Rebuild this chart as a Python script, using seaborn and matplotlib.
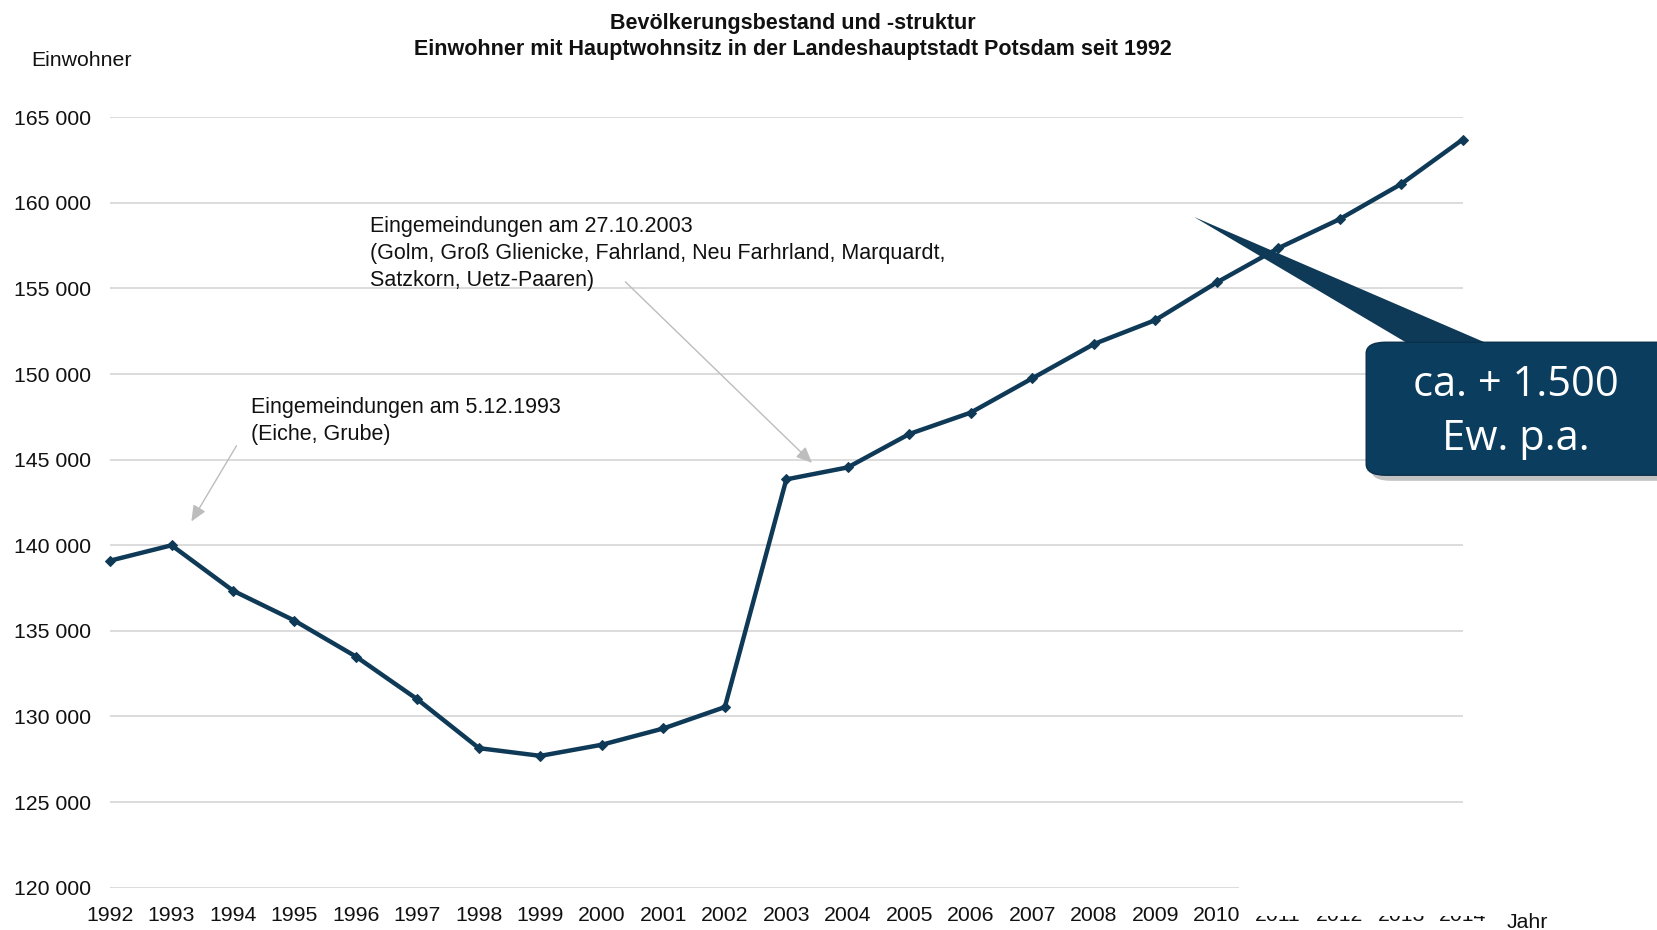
import numpy as np
import pandas as pd
import seaborn as sns
import matplotlib.pyplot as plt
from matplotlib.patches import FancyBboxPatch, Polygon, Rectangle
from matplotlib.ticker import FuncFormatter

# Einwohner mit Hauptwohnsitz, Potsdam
years = list(range(1992, 2015))
einwohner = [139100, 140000, 137350, 135600, 133500, 131000, 128150, 127700,
             128350, 129300, 130550, 143850, 144550, 146500, 147750, 149750,
             151750, 153150, 155350, 157350, 159050, 161100, 163700]
yticks = [120000, 125000, 130000, 135000, 140000, 145000, 150000, 155000, 160000, 165000]

df = pd.DataFrame({'Jahr': years, 'Einwohner': einwohner})

sns.set_theme(style='white')
plt.rcParams['font.family'] = ['Liberation Sans', 'DejaVu Sans']

navy = '#0f3a57'
fig = plt.figure(figsize=(16.57, 9.30), dpi=100)
ax = fig.add_axes([0.0664, 0.0455, 0.8163, 0.8284])

ax.set_ylim(120000, 165000)
ax.set_xlim(1992, 2014)
ax.set_yticks(yticks)
ax.set_xticks(years)
ax.yaxis.grid(True, color='#d9d9d9', lw=1.3)
ax.set_axisbelow(True)

sns.lineplot(data=df, x='Jahr', y='Einwohner', ax=ax, color=navy, lw=3.2,
             marker='D', markersize=5, markeredgecolor=navy, clip_on=False, zorder=3)

for s in ax.spines.values():
    s.set_visible(False)
ax.set_xlabel('')
ax.set_ylabel('')
ax.yaxis.set_major_formatter(FuncFormatter(lambda v, p: f'{int(v):,}'.replace(',', ' ')))
ax.tick_params(axis='y', length=0, pad=14, labelsize=15.3, labelcolor='#111111')
ax.tick_params(axis='x', length=0, pad=13, labelsize=15.3, labelcolor='#111111')

# annotations
gray = '#bdbdbd'
ax.annotate('Eingemeindungen am 5.12.1993\n(Eiche, Grube)',
            xy=(1993.3, 141250), xytext=(1994.3, 148650), textcoords='data',
            fontsize=15.5, va='top', ha='left', linespacing=1.37, color='#111111')
ax.annotate('', xy=(1993.3, 141250), xytext=(1994.08, 145950),
            arrowprops=dict(arrowstyle='-|>,head_length=0.8,head_width=0.35',
                            color=gray, lw=1))
ax.annotate('Eingemeindungen am 27.10.2003\n(Golm, Groß Glienicke, Fahrland, Neu Farhrland, Marquardt,\nSatzkorn, Uetz-Paaren)',
            xy=(2003.45, 144700), xytext=(1996.23, 159250), textcoords='data',
            fontsize=15.5, va='top', ha='left', linespacing=1.37, color='#111111')
ax.annotate('', xy=(2003.45, 144700), xytext=(2000.35, 155500),
            arrowprops=dict(arrowstyle='-|>,head_length=0.8,head_width=0.35',
                            color=gray, lw=1))

# titles and axis labels
fig.text(0.4785, 0.975, 'Bevölkerungsbestand und -struktur', ha='center', va='center',
         fontsize=15.5, fontweight='bold', color='#111111')
fig.text(0.4785, 0.947, 'Einwohner mit Hauptwohnsitz in der Landeshauptstadt Potsdam seit 1992',
         ha='center', va='center', fontsize=15.5, fontweight='bold', color='#111111')
fig.text(0.0187, 0.935, 'Einwohner', ha='left', va='center', fontsize=15.3, color='#111111')
fig.text(0.922, 0.008, 'Jahr', ha='center', va='center', fontsize=15.3, color='#111111')

# white patch covering part of the year labels (as in the original)
fig.patches.append(Rectangle((0.748, 0.015), 0.158, 0.038, transform=fig.transFigure,
                             facecolor='white', edgecolor='none', zorder=5))

# callout
tail = Polygon([(0.7206, 0.7667), (0.855, 0.625), (0.905, 0.625)], closed=True,
               transform=fig.transFigure, facecolor=navy, edgecolor='none', zorder=6)
fig.patches.append(tail)
shadow = FancyBboxPatch((0.8275, 0.483), 0.19, 0.138, boxstyle='round,pad=0,rounding_size=0.012',
                        transform=fig.transFigure, facecolor='#9a9a9a', edgecolor='none',
                        alpha=0.6, zorder=6)
fig.patches.append(shadow)
box = FancyBboxPatch((0.8245, 0.489), 0.19, 0.143, boxstyle='round,pad=0,rounding_size=0.012',
                     transform=fig.transFigure, facecolor='#0b3d5e', edgecolor='#08304a',
                     lw=1, zorder=7)
fig.patches.append(box)
fig.text(0.915, 0.586, 'ca. + 1.500', ha='center', va='center', fontsize=30,
         color='white', family=['Open Sans', 'DejaVu Sans'], zorder=8)
fig.text(0.915, 0.528, 'Ew. p.a.', ha='center', va='center', fontsize=30,
         color='white', family=['Open Sans', 'DejaVu Sans'], zorder=8)

fig.savefig('out.png', dpi=100)
